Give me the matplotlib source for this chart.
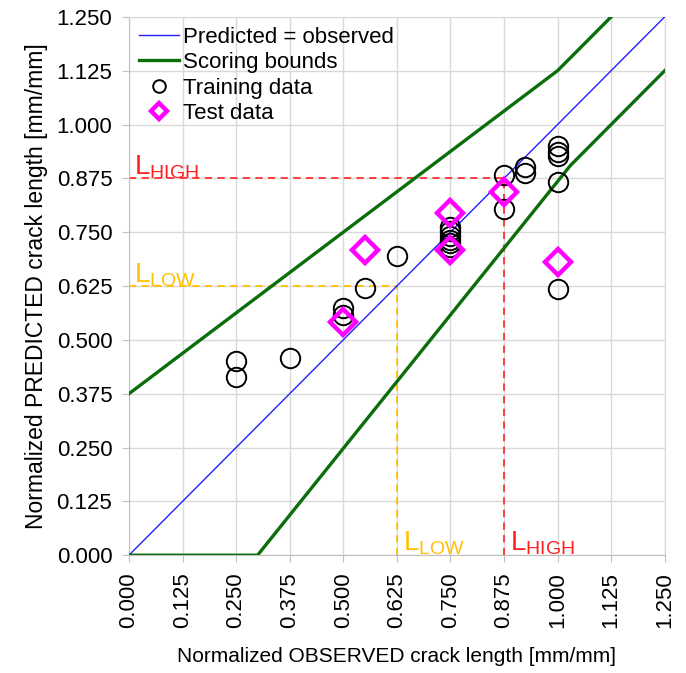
import matplotlib.pyplot as plt
import numpy as np

plt.rcParams['font.family'] = ['Liberation Sans', 'DejaVu Sans']
plt.rcParams['mathtext.fontset'] = 'custom'
plt.rcParams['mathtext.rm'] = 'Liberation Sans'

# data
train_x = [0.25, 0.25, 0.375, 0.5, 0.5, 0.55, 0.625,
           0.75, 0.75, 0.75, 0.75, 0.75, 0.75,
           0.875, 0.875, 0.923, 0.923,
           1.0, 1.0, 1.0, 1.0, 1.0]
train_y = [0.451, 0.414, 0.458, 0.575, 0.557, 0.620, 0.695,
           0.762, 0.752, 0.742, 0.732, 0.724, 0.716,
           0.883, 0.803, 0.902, 0.887,
           0.949, 0.937, 0.927, 0.867, 0.617]
test_x = [0.5, 0.55, 0.75, 0.75, 0.875, 1.0]
test_y = [0.542, 0.709, 0.794, 0.709, 0.843, 0.680]

upper_x = [0.0, 1.0, 1.25]
upper_y = [0.375, 1.125, 1.375]
lower_x = [0.0, 0.3, 1.03, 1.25]
lower_y = [0.0, 0.0, 0.905, 1.125]

l_low = 0.625
l_high = 0.875
ticks = np.arange(0, 1.2501, 0.125)

fig = plt.figure(figsize=(6.86, 6.73), dpi=100)
ax = fig.add_axes([0.188, 0.175, 0.781, 0.8])

ax.plot([0, 1.25], [0, 1.25], color='#2020FF', lw=1.0, label='Predicted = observed', zorder=3)
ax.plot(upper_x, upper_y, color='#0A6E0A', lw=2.4, label='Scoring bounds', zorder=3)
ax.plot(lower_x, lower_y, color='#0A6E0A', lw=2.4, zorder=3)

#  threshold lines
ax.plot([0, l_high], [l_high, l_high], color='#FF3030', lw=1.3, ls=(0, (4, 3)), zorder=2)
ax.plot([l_high, l_high], [0, l_high], color='#FF3030', lw=1.3, ls=(0, (4, 3)), zorder=2)
ax.plot([0, l_low], [l_low, l_low], color='#FFC000', lw=1.3, ls=(0, (4, 3)), zorder=2)
ax.plot([l_low, l_low], [0, l_low], color='#FFC000', lw=1.3, ls=(0, (4, 3)), zorder=2)

ax.plot(train_x, train_y, ls='none', marker='o', ms=14, mfc='none', mec='black', mew=1.4,
        label='Training data', zorder=4)
ax.plot(test_x, test_y, ls='none', marker='D', ms=13, mfc='none', mec='#FF00FF', mew=3.2,
        label='Test data', zorder=5)

ax.text(0.012, 0.885, r'L$_{\mathrm{HIGH}}$', color='#FF2020', fontsize=20)
ax.text(0.012, 0.635, r'L$_{\mathrm{LOW}}$', color='#FFC000', fontsize=20)
ax.text(l_low + 0.015, 0.012, r'L$_{\mathrm{LOW}}$', color='#FFC000', fontsize=20)
ax.text(l_high + 0.015, 0.012, r'L$_{\mathrm{HIGH}}$', color='#FF2020', fontsize=20)

ax.set_xlim(0, 1.25)
ax.set_ylim(0, 1.25)
ax.set_xticks(ticks)
ax.set_yticks(ticks)
ax.set_xticklabels([f'{t:.3f}' for t in ticks], rotation=90)
ax.set_yticklabels([f'{t:.3f}' for t in ticks])
ax.tick_params(labelsize=16, length=5, color='#BFBFBF', direction='out', pad=7)
ax.grid(color='#D9D9D9', lw=1.0, zorder=0)
ax.set_axisbelow(True)
for s in ax.spines.values():
    s.set_color('#D9D9D9')
ax.spines['left'].set_color('#BFBFBF')
ax.spines['bottom'].set_color('#BFBFBF')

ax.set_xlabel('Normalized OBSERVED crack length [mm/mm]', fontsize=15, labelpad=14)
ax.set_ylabel('Normalized PREDICTED crack length [mm/mm]', fontsize=16.5, labelpad=6)

leg = ax.legend(loc='upper left', frameon=False, fontsize=16, labelspacing=0.2,
                handlelength=1.8, handletextpad=0.2, borderaxespad=0.1, markerscale=0.65,
                borderpad=0.35)

fig.savefig('out.png', dpi=100)
